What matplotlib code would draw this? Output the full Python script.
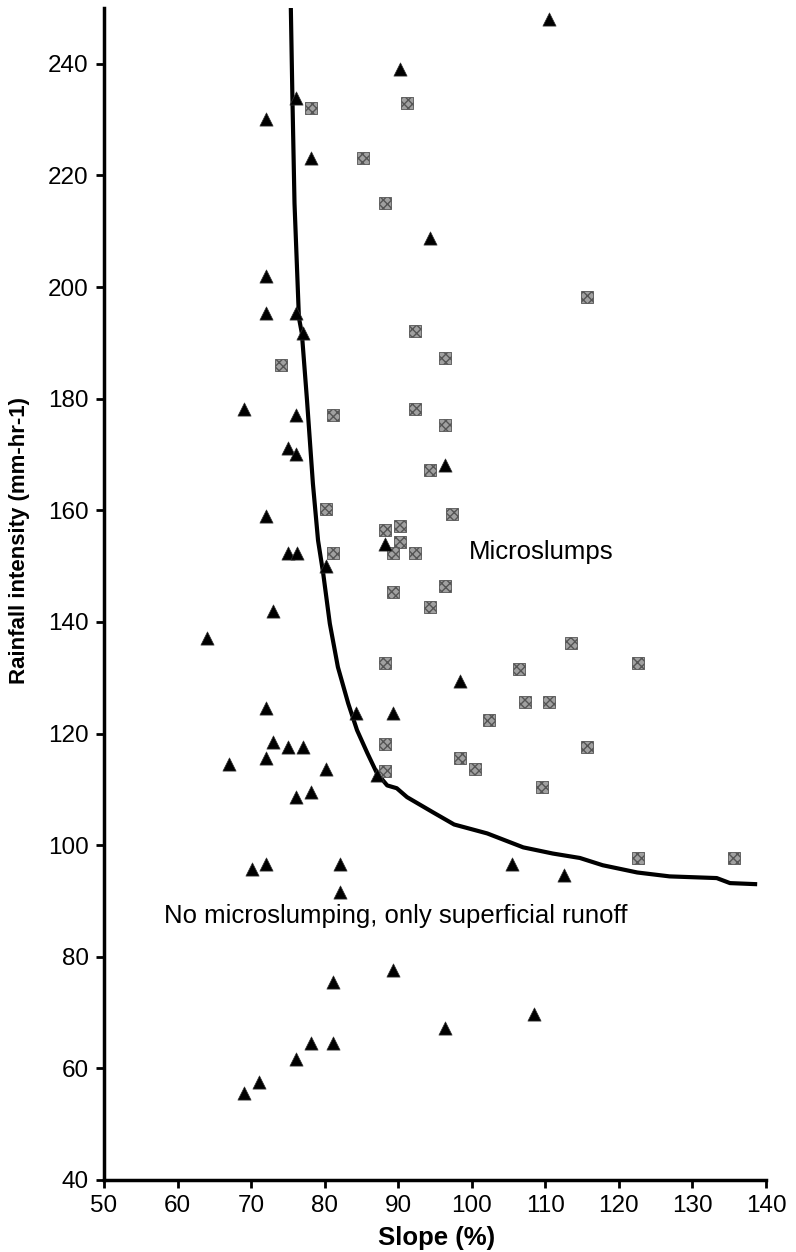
import matplotlib
matplotlib.use("Agg")
import matplotlib.pyplot as plt

plt.rcParams['font.family'] = ['Liberation Sans', 'DejaVu Sans']

# Triangles (no microslumping observed)
tri_x = [110.5, 90.2, 76.1, 72, 78.1, 94.3, 72, 72, 76.1, 77.0, 69, 76.1, 75, 76.1,
         96.4, 72, 75, 76.2, 80.2, 88.2, 73, 64, 72, 84.3, 89.3, 98.4, 73, 75, 77,
         72, 67, 80.2, 87.1, 78.1, 76.1, 72, 70.1, 82.1, 82.1, 105.5, 112.5,
         89.3, 81.1, 108.5, 96.4, 78.1, 81.1, 76.1, 71.1, 69]
tri_y = [248, 239.1, 233.9, 230.1, 223.2, 208.8, 202, 195.4, 195.4, 191.8, 178.2, 177,
         171.2, 170, 168.2, 159, 152.3, 152.3, 150.1, 154, 142, 137.2, 124.5, 123.6,
         123.6, 129.5, 118.4, 117.5, 117.5, 115.6, 114.5, 113.6, 112.5, 109.5, 108.6,
         96.6, 95.7, 96.6, 91.6, 96.6, 94.6,
         77.6, 75.5, 69.7, 67.2, 64.5, 64.5, 61.7, 57.5, 55.6]

# Squares (microslumps)
sq_x = [78.1, 91.2, 85.2, 88.2, 115.7, 92.3, 96.4, 74.1, 92.3, 81.1, 96.4, 94.3,
        80.2, 97.3, 90.2, 88.2, 90.2, 89.3, 92.3, 81.1, 89.3, 96.4, 94.3, 88.2,
        113.5, 122.6, 106.4, 107.2, 110.5, 102.3, 115.7, 98.4, 100.4, 109.5,
        88.2, 88.2, 122.6, 135.6]
sq_y = [232.1, 233, 223.2, 215.1, 198.3, 192.2, 187.2, 186.1, 178.2, 177, 175.2, 167.3,
        160.3, 159.4, 157.1, 156.4, 154.4, 152.3, 152.3, 152.3, 145.3, 146.4, 142.6, 132.6,
        136.3, 132.6, 131.5, 125.6, 125.6, 122.5, 117.5, 115.6, 113.6, 110.5,
        118.2, 113.2, 97.7, 97.7]

# Threshold curve
curve_x = [75.4, 75.6, 75.9, 76.5, 76.9, 77.6, 78.4, 79.1, 79.8, 80.7, 81.8, 83.2,
           84.4, 85.8, 87.1, 88.5, 89.8, 91.2, 94.7, 97.6, 102.1, 107.0, 111.0,
           114.7, 117.8, 122.5, 126.9, 133.3, 135.1, 138.8]
curve_y = [250, 235, 215, 194.5, 191.7, 179.7, 164.8, 154.6, 148.7, 139.7, 131.9, 125.4,
           120.6, 116.5, 112.9, 110.7, 110.2, 108.6, 105.9, 103.7, 102.1, 99.6, 98.5,
           97.7, 96.4, 95.1, 94.4, 94.1, 93.2, 93.0]

xticks = [50, 60, 70, 80, 90, 100, 110, 120, 130, 140]
yticks = [40, 60, 80, 100, 120, 140, 160, 180, 200, 220, 240]

W, H = 796, 1252
fig = plt.figure(figsize=(W / 100, H / 100), dpi=100)
ax = fig.add_axes([104 / W, 1 - 1180 / H, 662 / W, 1172 / H])

ax.plot(curve_x, curve_y, color='black', lw=3.0, solid_capstyle='butt',
        solid_joinstyle='round', zorder=2)
ax.scatter(sq_x, sq_y, marker='s', s=75, facecolor='#a0a0a0', edgecolor='#555555',
           linewidths=0.6, hatch='xxxx', zorder=3)
ax.scatter(tri_x, tri_y, marker='^', s=90, facecolor='black', edgecolor='#333333',
           linewidths=0.5, zorder=4)

ax.text(99.6, 151.2, 'Microslumps', fontsize=18.5, va='baseline', ha='left')
ax.text(58.2, 86.0, 'No microslumping, only superficial runoff', fontsize=18.5,
        va='baseline', ha='left')

ax.set_xlim(50, 140)
ax.set_ylim(40, 250)
ax.set_xticks(xticks)
ax.set_yticks(yticks)
ax.tick_params(labelsize=17.5, length=6, width=2, direction='out', pad=5)
for s in ['top', 'right']:
    ax.spines[s].set_visible(False)
for s in ['left', 'bottom']:
    ax.spines[s].set_linewidth(2.5)

fig.text(437 / W, 1 - 1245 / H, 'Slope (%)', fontsize=18.5, fontweight='bold',
         ha='center', va='baseline')
fig.text(20 / W, 1 - 541 / H, 'Rainfall intensity (mm-hr-1)', fontsize=16,
         fontweight='bold', rotation=90, ha='center', va='center')

fig.savefig('out.png', dpi=100)
